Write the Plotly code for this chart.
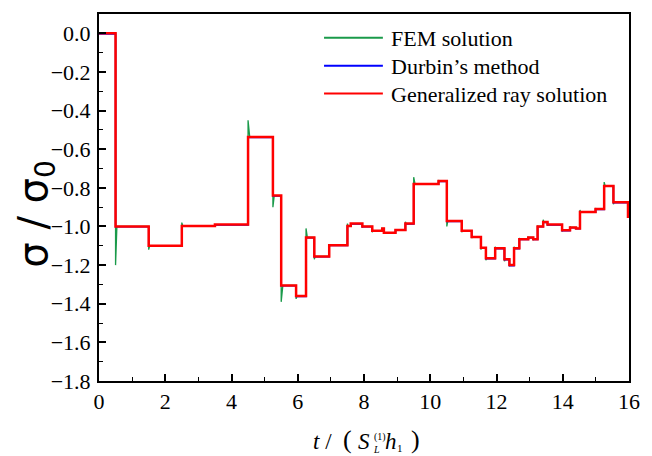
import plotly.graph_objects as go

# ---------------- data ----------------
seg_start = [0.0, 0.5, 1.5, 2.5, 3.5, 4.5, 5.25, 5.5, 5.95, 6.25, 6.5, 6.95, 7.5, 7.6, 7.95,
             8.25, 8.55, 8.6, 8.95, 9.25, 9.5, 10.25, 10.5, 10.95, 11.25, 11.53, 11.68, 11.96,
             12.24, 12.39, 12.53, 12.69, 12.96, 13.11, 13.24, 13.41, 13.54, 13.98, 14.22, 14.4,
             14.52, 14.99, 15.25, 15.53, 15.97]
ray_level = [0.0, -1.0, -1.1, -0.997, -0.99, -0.537, -0.84, -1.305, -1.36, -1.057, -1.155, -1.097,
             -0.997, -0.985, -1.0, -1.022, -1.01, -1.032, -1.018, -0.985, -0.78, -0.765, -0.972,
             -1.022, -1.054, -1.11, -1.165, -1.113, -1.17, -1.2, -1.113, -1.066, -1.057, -1.066,
             -1.0, -0.977, -0.99, -1.02, -1.005, -1.01, -0.925, -0.91, -0.79, -0.875, -0.95]
durbin_level = [-0.004, -1.002, -1.1, -0.999, -0.992, -0.539, -0.842, -1.307, -1.362, -1.059, -1.157,
                -1.099, -0.999, -0.987, -1.002, -1.024, -1.012, -1.034, -1.02, -0.987, -0.782, -0.767,
                -0.974, -1.024, -1.056, -1.112, -1.167, -1.115, -1.172, -1.203, -1.115, -1.068, -1.059,
                -1.068, -1.002, -0.979, -0.992, -1.022, -1.007, -1.012, -0.927, -0.912, -0.792,
                -0.877, -0.952]
# FEM: overshoot value reached right at each jump (then settles to the level)
fem_peak = [0.0, -1.2, -1.12, -0.98, -0.99, -0.45, -0.9, -1.39, -1.375, -1.01, -1.17, -1.105,
            -0.985, -0.985, -1.005, -1.03, -1.01, -1.035, -1.02, -0.975, -0.745, -0.76, -1.0,
            -1.03, -1.06, -1.12, -1.175, -1.105, -1.18, -1.205, -1.105, -1.06, -1.055, -1.07,
            -0.995, -0.965, -0.995, -1.025, -1.0, -1.01, -0.915, -0.905, -0.77, -0.885, -0.95]
fem_settle = [0.0, 0.04, 0.03, 0.03, 0.02, 0.05, 0.04, 0.05, 0.03, 0.04, 0.03, 0.03,
              0.02, 0.02, 0.02, 0.02, 0.02, 0.02, 0.02, 0.02, 0.04, 0.02, 0.03,
              0.02, 0.02, 0.02, 0.02, 0.02, 0.02, 0.02, 0.02, 0.02, 0.02, 0.02,
              0.02, 0.02, 0.02, 0.02, 0.02, 0.02, 0.02, 0.02, 0.03, 0.02, 0.02]
t_end = 16.0

series_names = ["FEM solution", "Durbin\u2019s method", "Generalized ray solution"]
series_colors = ["#1a9a4a", "#0000ff", "#ff0000"]
x_ticks = [0, 2, 4, 6, 8, 10, 12, 14, 16]
y_ticks = [0.0, -0.2, -0.4, -0.6, -0.8, -1.0, -1.2, -1.4, -1.6, -1.8]

# ---------------- build traces ----------------
fem_x, fem_y = [], []
for i, t in enumerate(seg_start):
    nxt = seg_start[i + 1] if i + 1 < len(seg_start) else t_end
    if i == 0:
        fem_x.append(t); fem_y.append(ray_level[i])
    else:
        fem_x += [t, t + fem_settle[i]]
        fem_y += [fem_peak[i], ray_level[i]]
    fem_x.append(nxt); fem_y.append(ray_level[i])

fig = go.Figure()
fig.add_trace(go.Scatter(x=fem_x, y=fem_y, mode="lines", name=series_names[0],
                         line=dict(color=series_colors[0], width=1.3)))
fig.add_trace(go.Scatter(x=seg_start + [t_end], y=durbin_level + [durbin_level[-1]], mode="lines",
                         line_shape="hv", name=series_names[1],
                         line=dict(color=series_colors[1], width=1.5)))
fig.add_trace(go.Scatter(x=seg_start + [t_end], y=ray_level + [ray_level[-1]], mode="lines",
                         line_shape="hv", name=series_names[2],
                         line=dict(color=series_colors[2], width=2.5)))

# ---------------- layout ----------------
W, H = 652, 456
L, R, T, B = 98.5, 13, 12, 75
PW, PH = W - L - R, H - T - B


def px(x):
    return (x - L) / PW


def py(y):
    return (H - B - y) / PH


serif = "Liberation Serif, Times New Roman, serif"
tick_font = dict(family=serif, size=22, color="black")
axis_common = dict(showline=True, linewidth=2, linecolor="black", mirror=True, showgrid=False,
                   zeroline=False, ticks="inside", ticklen=7, tickwidth=1.5, tickcolor="black",
                   tickfont=tick_font)
fig.update_xaxes(range=[0, 16], tickvals=x_ticks, ticktext=[str(v) for v in x_ticks],
                 minor=dict(ticks="inside", ticklen=4, tickwidth=1.2, dtick=1, tick0=0,
                            tickcolor="black"), ticklabelstandoff=0, **axis_common)
fig.update_yaxes(range=[-1.8, 0.1], tickvals=y_ticks,
                 ticktext=[("\u2212" if v < 0 else "") + f"{abs(v):.1f}" for v in y_ticks],
                 minor=dict(ticks="inside", ticklen=4, tickwidth=1.2, dtick=0.1, tick0=0,
                            tickcolor="black"), ticklabelstandoff=2, **axis_common)

shapes, annotations = [], []
# manual legend
leg_y = [36, 64, 92]
for name, col, yy in zip(series_names, series_colors, leg_y):
    shapes.append(dict(type="line", xref="paper", yref="paper", x0=px(328), x1=px(388),
                       y0=py(yy), y1=py(yy), line=dict(color=col, width=2)))
    annotations.append(dict(xref="paper", yref="paper", x=px(394), y=py(yy + 1), text=name,
                            showarrow=False, xanchor="left", yanchor="middle",
                            font=dict(family=serif, size=22, color="black")))

# y-axis title
annotations.append(dict(xref="paper", yref="paper", x=px(34), y=py(213),
                        text="\u03c3 / \u03c3<sub>0</sub>", textangle=-90, showarrow=False,
                        xanchor="center", yanchor="middle",
                        font=dict(family="DejaVu Sans, sans-serif", size=40, color="black")))
# x-axis title pieces
xt = [
    ("<i>t</i> /", 326, 442, 23),
    ("(", 352, 440, 26),
    ("<i>S</i>", 369, 442, 23),
    ("(1)", 385, 437, 10),
    ("<i>L</i>", 381, 450, 10),
    ("<i>h</i>", 396, 442, 23),
    ("1", 405, 448, 11),
    (")", 421, 440, 26),
]
for txt, xx, yy, sz in xt:
    annotations.append(dict(xref="paper", yref="paper", x=px(xx), y=py(yy), text=txt,
                            showarrow=False, xanchor="center", yanchor="middle",
                            font=dict(family=serif, size=sz, color="black")))

fig.update_layout(width=W, height=H, margin=dict(l=L, r=R, t=T, b=B), plot_bgcolor="white",
                  paper_bgcolor="white", showlegend=False, shapes=shapes, annotations=annotations)

fig.write_html("out.html", config={"displayModeBar": False},
               post_script="document.body.style.margin='0px';")
